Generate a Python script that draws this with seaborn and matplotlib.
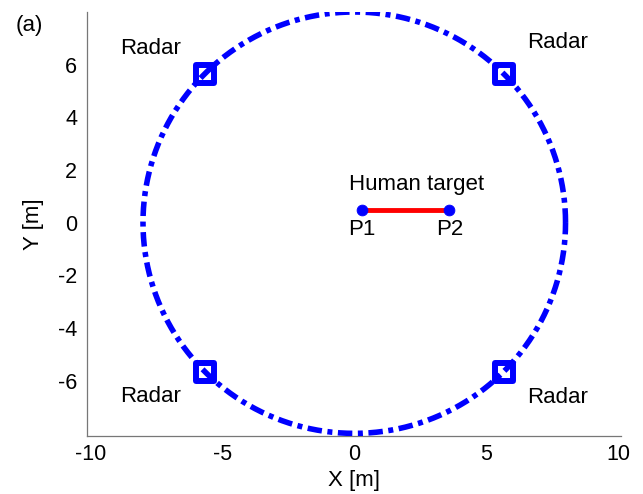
import numpy as np
import pandas as pd
import matplotlib
matplotlib.use("Agg")
import matplotlib.pyplot as plt
import seaborn as sns

# ---- data ----
circle_radius = 8.0
circle_angles_deg = list(range(0, 361, 2))
radar_x = [-5.66, 5.66, -5.66, 5.66]
radar_y = [5.66, 5.66, -5.66, -5.66]
target_x = [0.3, 3.6]
target_y = [0.5, 0.5]
target_names = ["P1", "P2"]
radar_label_x = [-7.7, 7.7, -7.7, 7.7]
radar_label_y = [6.6, 6.85, -6.6, -6.65]
x_ticks = [-10, -5, 0, 5, 10]
y_ticks = [-6, -4, -2, 0, 2, 4, 6]

sns.set_style("white")
plt.rcParams['font.family'] = ['Liberation Sans', 'DejaVu Sans']
plt.rcParams['axes.unicode_minus'] = False
plt.rcParams['text.color'] = 'black'
plt.rcParams['axes.labelcolor'] = 'black'

fig = plt.figure(figsize=(6.43, 4.94), dpi=100)
ax = fig.add_axes([87/643, 1-436/494, (621-87)/643, (436-12)/494])

th = np.deg2rad(np.array(circle_angles_deg, dtype=float))
circ = pd.DataFrame({"x": circle_radius*np.cos(th), "y": circle_radius*np.sin(th)})
sns.lineplot(data=circ, x="x", y="y", sort=False, estimator=None, ax=ax,
             color="#0000ff", lw=4.0, linestyle=(0, (2.6, 1.0, 0.9, 1.0)), zorder=6)

rad = pd.DataFrame({"x": radar_x, "y": radar_y})
sns.scatterplot(data=rad, x="x", y="y", ax=ax, marker="s", s=150,
                facecolor="white", edgecolor="#0000ff", linewidth=4.3, zorder=5)

tgt = pd.DataFrame({"x": target_x, "y": target_y})
sns.lineplot(data=tgt, x="x", y="y", ax=ax, color="red", lw=3.5, sort=False, estimator=None)
sns.scatterplot(data=tgt, x="x", y="y", ax=ax, color="#0000ff", s=60, edgecolor="#0000ff", zorder=6)

fs = 16
for lx, ly in zip(radar_label_x, radar_label_y):
    ax.text(lx, ly, "Radar", ha="center", va="center", fontsize=fs)
ax.text(2.35, 1.45, "Human target", ha="center", va="center", fontsize=fs)
for tx, ty, nm in zip(target_x, target_y, target_names):
    ax.text(tx, ty - 0.75, nm, ha="center", va="center", fontsize=fs)

ax.set_xlim(-10.12, 10.1)
ax.set_ylim(-8.1, 8.0)
ax.set_xticks(x_ticks)
ax.set_yticks(y_ticks)
ax.tick_params(axis="x", direction="in", length=4, width=0.8, labelsize=15.5, colors="#777777", labelcolor="black", pad=6)
ax.tick_params(axis="y", direction="out", length=4, width=0.8, labelsize=15.5, colors="#777777", labelcolor="black", pad=3)
for s in ["top", "right"]:
    ax.spines[s].set_visible(False)
for s in ["left", "bottom"]:
    ax.spines[s].set_color("#777777")
    ax.spines[s].set_linewidth(0.9)
ax.set_xlabel("X [m]", fontsize=16, labelpad=3)
ax.set_ylabel("Y [m]", fontsize=16, labelpad=10)
fig.text(29/643, 1-25/494, "(a)", fontsize=16, ha="center", va="center")

fig.savefig("out.png", dpi=100)
